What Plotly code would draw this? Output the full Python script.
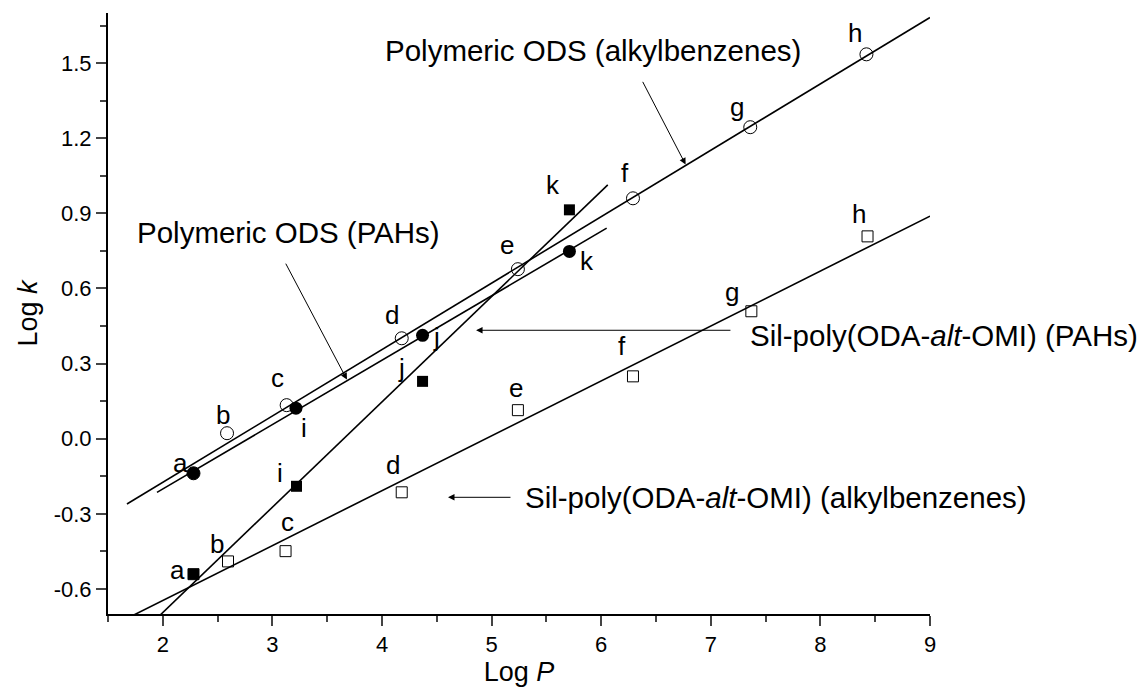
import numpy as np
import plotly.graph_objects as go

# ---------------- data ----------------
# Polymeric ODS, alkylbenzenes (open circles); "a" (benzene) lies under the filled circle
ods_alk_labels = ["a", "b", "c", "d", "e", "f", "g", "h"]
ods_alk_logp = [2.28, 2.586, 3.13, 4.18, 5.24, 6.29, 7.36, 8.42]
ods_alk_logk = [-0.138, 0.022, 0.134, 0.401, 0.677, 0.96, 1.244, 1.535]

# Polymeric ODS, PAHs (filled circles)
ods_pah_labels = ["a", "i", "j", "k"]
ods_pah_logp = [2.28, 3.215, 4.37, 5.71]
ods_pah_logk = [-0.138, 0.122, 0.413, 0.748]

# Sil-poly(ODA-alt-OMI), PAHs (filled squares)
sil_pah_labels = ["a", "i", "j", "k"]
sil_pah_logp = [2.28, 3.22, 4.37, 5.71]
sil_pah_logk = [-0.541, -0.19, 0.229, 0.914]

# Sil-poly(ODA-alt-OMI), alkylbenzenes (open squares); "a" lies under the filled square
sil_alk_labels = ["a", "b", "c", "d", "e", "f", "g", "h"]
sil_alk_logp = [2.28, 2.595, 3.12, 4.18, 5.24, 6.29, 7.37, 8.43]
sil_alk_logk = [-0.541, -0.49, -0.449, -0.214, 0.114, 0.249, 0.509, 0.808]

x_ticks = [2, 3, 4, 5, 6, 7, 8, 9]
y_tickvals = [-0.6, -0.3, 0.0, 0.3, 0.6, 0.9, 1.2, 1.5]
y_ticktext = ["-0.6", "-0.3", "0.0", "0.3", "0.6", "0.9", "1.2", "1.5"]

FONT = "Arial, Liberation Sans, sans-serif"

fig = go.Figure()

# regression lines (fit from the data), with their drawn x extents
fit_specs = [
    (ods_alk_logp, ods_alk_logk, [1.673, 9.0]),
    (ods_pah_logp, ods_pah_logk, [1.947, 6.05]),
    (sil_pah_logp, sil_pah_logk, [1.9, 6.06]),
    (sil_alk_logp, sil_alk_logk, [1.7, 9.0]),
]
for xs, ys, ext in fit_specs:
    m, b = np.polyfit(xs, ys, 1)
    ex = np.array(ext)
    fig.add_trace(go.Scatter(x=ex, y=m * ex + b, mode="lines",
                             line=dict(color="black", width=1.6),
                             showlegend=False, hoverinfo="skip"))

fig.add_trace(go.Scatter(x=ods_alk_logp, y=ods_alk_logk, mode="markers",
                         marker=dict(symbol="circle-open", size=13, color="black",
                                     line=dict(width=1)), showlegend=False))
fig.add_trace(go.Scatter(x=sil_alk_logp, y=sil_alk_logk, mode="markers",
                         marker=dict(symbol="square-open", size=11, color="black",
                                     line=dict(width=1)), showlegend=False))
fig.add_trace(go.Scatter(x=ods_pah_logp, y=ods_pah_logk, mode="markers",
                         marker=dict(symbol="circle", size=13, color="black"),
                         showlegend=False))
fig.add_trace(go.Scatter(x=sil_pah_logp, y=sil_pah_logk, mode="markers",
                         marker=dict(symbol="square", size=11, color="black"),
                         showlegend=False))

# point letter labels (pixel offsets from each point)
label_font = dict(family=FONT, size=26, color="black")
ods_alk_off = {"b": (-4, 18), "c": (-9, 27), "d": (-10, 23), "e": (-11, 24),
               "f": (-8, 25), "g": (-13, 20), "h": (-11, 21)}
ods_pah_off = {"a": (-13, 10), "i": (8, -20), "j": (14, -2), "k": (18, -10)}
sil_pah_off = {"a": (-16, 4), "i": (-17, 13), "j": (-21, 13), "k": (-16, 25)}
sil_alk_off = {"b": (-11, 17), "c": (2, 29), "d": (-9, 27), "e": (-2, 22),
               "f": (-11, 30), "g": (-19, 19), "h": (-9, 22)}

for labs, xs, ys, offs in [
    (ods_alk_labels, ods_alk_logp, ods_alk_logk, ods_alk_off),
    (ods_pah_labels, ods_pah_logp, ods_pah_logk, ods_pah_off),
    (sil_pah_labels, sil_pah_logp, sil_pah_logk, sil_pah_off),
    (sil_alk_labels, sil_alk_logp, sil_alk_logk, sil_alk_off),
]:
    for lab, xv, yv in zip(labs, xs, ys):
        if lab not in offs:
            continue
        dx, dy = offs[lab]
        fig.add_annotation(x=xv, y=yv, text=lab, showarrow=False,
                           xshift=dx, yshift=dy, font=label_font)

# series name annotations
name_font = dict(family=FONT, size=29.5, color="black")
fig.add_annotation(x=4.009, y=1.551, text="Polymeric ODS (alkylbenzenes)",
                   showarrow=False, xanchor="left", yanchor="middle", font=name_font)
fig.add_annotation(x=1.746, y=0.824, text="Polymeric ODS (PAHs)",
                   showarrow=False, xanchor="left", yanchor="middle", font=name_font)
fig.add_annotation(x=7.34, y=0.413, text="Sil-poly(ODA-<i>alt</i>-OMI) (PAHs)",
                   showarrow=False, xanchor="left", yanchor="middle", font=name_font)
fig.add_annotation(x=5.29, y=-0.234, text="Sil-poly(ODA-<i>alt</i>-OMI) (alkylbenzenes)",
                   showarrow=False, xanchor="left", yanchor="middle", font=name_font)

# arrows: (head x, head y, tail x, tail y)
arrows = [
    (6.77, 1.095, 6.372, 1.431),
    (3.68, 0.236, 3.115, 0.705),
    (4.858, 0.433, 7.193, 0.433),
    (4.602, -0.234, 5.186, -0.234),
]
for hx, hy, tx, ty in arrows:
    fig.add_annotation(x=hx, y=hy, ax=tx, ay=ty, axref="x", ayref="y",
                       xref="x", yref="y", text="", showarrow=True,
                       arrowhead=2, arrowsize=1.3, arrowwidth=1,
                       arrowcolor="black", standoff=0, startstandoff=0)

fig.update_layout(
    width=1143, height=692,
    margin=dict(l=108, r=213, t=13, b=78),
    plot_bgcolor="white", paper_bgcolor="white",
    font=dict(family=FONT, color="black"),
    showlegend=False,
)
fig.update_xaxes(
    range=[1.5, 9], tickvals=x_ticks, ticks="outside", ticklen=10, tickwidth=2,
    minor=dict(dtick=0.5, tick0=1.5, ticks="outside", ticklen=6, tickwidth=2,
               showgrid=False),
    showline=True, linewidth=2, linecolor="black", showgrid=False, zeroline=False,
    tickfont=dict(family=FONT, size=22, color="black"),
    title=dict(text="Log <i>P</i>", font=dict(family=FONT, size=27), standoff=4),
)
fig.update_yaxes(
    range=[-0.7, 1.7], tickvals=y_tickvals, ticktext=y_ticktext,
    ticks="outside", ticklen=10, tickwidth=2,
    minor=dict(dtick=0.15, tick0=0, ticks="outside", ticklen=6, tickwidth=2,
               showgrid=False),
    showline=True, linewidth=2, linecolor="black", showgrid=False, zeroline=False,
    tickfont=dict(family=FONT, size=22, color="black"),
    title=dict(text="Log <i>k</i>", font=dict(family=FONT, size=27), standoff=8),
)

fig.write_html("out.html")
